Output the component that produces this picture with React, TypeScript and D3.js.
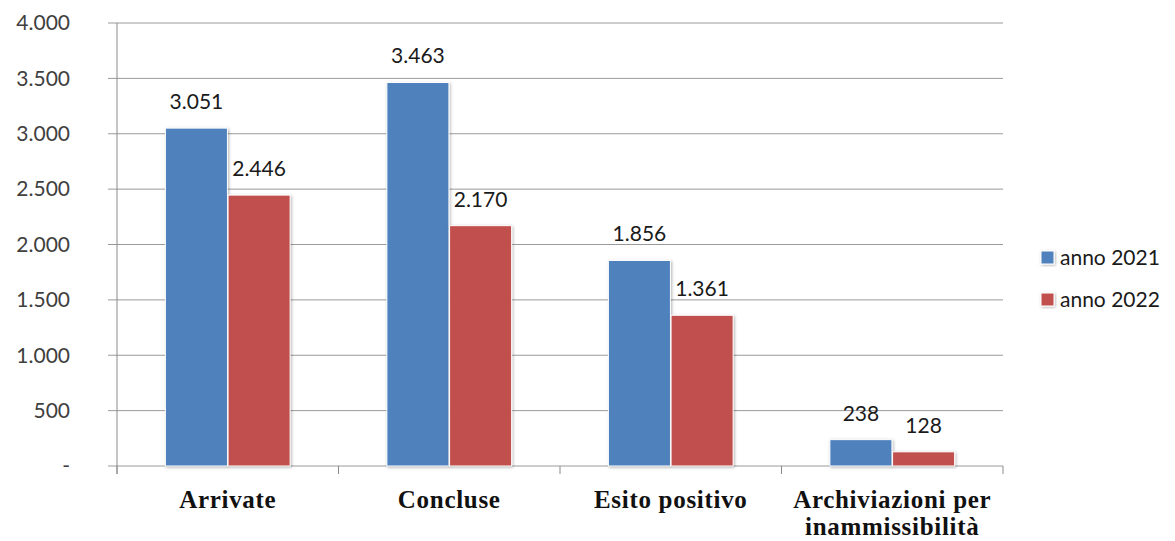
import * as d3 from 'd3';
import React from 'react';

const categories = ['Arrivate', 'Concluse', 'Esito positivo', 'Archiviazioni per inammissibilità'];
const categoryLines = [['Arrivate'], ['Concluse'], ['Esito positivo'], ['Archiviazioni per', 'inammissibilità']];
const seriesNames = ['anno 2021', 'anno 2022'];
const values2021 = [3051, 3463, 1856, 238];
const values2022 = [2446, 2170, 1361, 128];
const yTicks = [0, 500, 1000, 1500, 2000, 2500, 3000, 3500, 4000];
const colors = ['#4F81BD', '#C0504D'];

const fmt = (v: number) => (v === 0 ? '-' : d3.format(',')(v).replace(/,/g, '.'));

const App: React.FC = () => {
  const W = 1175;
  const H = 541;
  const left = 117;
  const right = 1003;
  const top = 23;
  const bottom = 466;

  const x = d3.scaleBand().domain(categories).range([left, right]).paddingInner(0).paddingOuter(0);
  const inner = d3.scaleBand().domain(seriesNames).range([0, 126]).padding(0.01);
  const groupOffset = (x.bandwidth() - 126) / 2;
  const y = d3.scaleLinear().domain([0, 4000]).range([bottom, top]);

  const series = [values2021, values2022];
  const tickXs = [...categories.map(c => x(c) as number), right];
  const sans = "Lato, 'Open Sans', sans-serif";

  return (
    <svg width={W} height={H} style={{ position: 'absolute', left: 0, top: 0, background: '#fff' }}>
      <defs>
        <filter id="sh" x="-20%" y="-20%" width="140%" height="140%">
          <feDropShadow dx="1" dy="1" stdDeviation="1.5" floodColor="#000" floodOpacity="0.3" />
        </filter>
      </defs>
      {yTicks.map(t => (
        <g key={t}>
          <line x1={108} x2={right} y1={y(t)} y2={y(t)} stroke="#9a9a9a" strokeWidth={1} />
          <text x={70} y={y(t)} dy="0.35em" textAnchor="end" fontFamily={sans} fontSize={21} fill="#404040">
            {fmt(t)}
          </text>
        </g>
      ))}
      <line x1={left} x2={left} y1={top} y2={bottom + 8} stroke="#8a8a8a" />
      {tickXs.map((tx, i) => (
        <line key={i} x1={tx} x2={tx} y1={bottom} y2={bottom + 8} stroke="#8a8a8a" />
      ))}
      {categories.map((c, ci) => (
        <g key={c} transform={`translate(${(x(c) as number) + groupOffset},0)`}>
          {series.map((vals, si) => {
            const bx = inner(seriesNames[si]) as number;
            const bw = inner.bandwidth();
            return (
              <g key={si}>
                <rect x={bx} y={y(vals[ci])} width={bw} height={bottom - y(vals[ci])} fill={colors[si]} stroke="#fff" strokeWidth={1} filter="url(#sh)" />
                <text x={bx + bw / 2} y={y(vals[ci]) - 19} textAnchor="middle" fontFamily={sans} fontSize={21} fill="#1a1a1a">
                  {fmt(vals[ci])}
                </text>
              </g>
            );
          })}
        </g>
      ))}
      {categories.map((c, ci) => (
        <text key={c} x={(x(c) as number) + x.bandwidth() / 2} y={508} textAnchor="middle" fontFamily="'Liberation Serif', serif" fontWeight="bold" fontSize={25} letterSpacing={0.7} fill="#111">
          {categoryLines[ci].map((l, li) => (
            <tspan key={li} x={(x(c) as number) + x.bandwidth() / 2} dy={li === 0 ? 0 : 27}>{l}</tspan>
          ))}
        </text>
      ))}
      {seriesNames.map((s, i) => (
        <g key={s} transform={`translate(1041,${258 + i * 42})`}>
          <rect x={0} y={-7} width={13} height={13} fill={colors[i]} stroke="#fff" filter="url(#sh)" />
          <text x={19} y={0} dy="0.35em" fontFamily={sans} fontSize={21} fill="#1a1a1a">{s}</text>
        </g>
      ))}
    </svg>
  );
};

export default App;
